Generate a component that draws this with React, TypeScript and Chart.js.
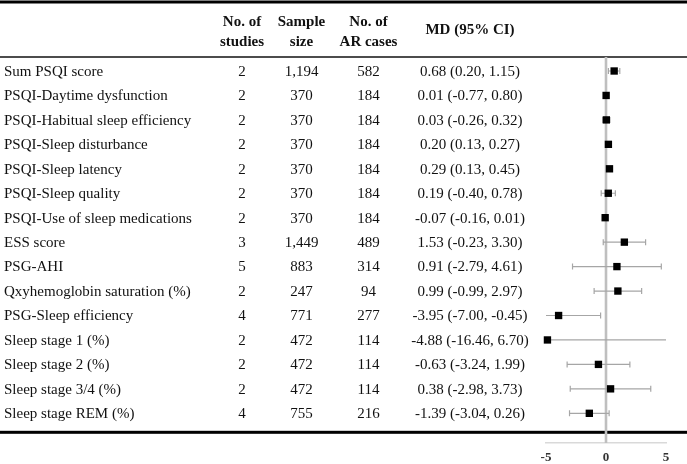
import React, { useEffect, useRef } from "react";
import { Chart, registerables } from "chart.js";

Chart.register(...registerables);

// ---------- data ----------
const outcomes = [
  "Sum PSQI score",
  "PSQI-Daytime dysfunction",
  "PSQI-Habitual sleep efficiency",
  "PSQI-Sleep disturbance",
  "PSQI-Sleep latency",
  "PSQI-Sleep quality",
  "PSQI-Use of sleep medications",
  "ESS score",
  "PSG-AHI",
  "Qxyhemoglobin saturation (%)",
  "PSG-Sleep efficiency",
  "Sleep stage 1 (%)",
  "Sleep stage 2 (%)",
  "Sleep stage 3/4 (%)",
  "Sleep stage REM (%)",
];
const studies = [2, 2, 2, 2, 2, 2, 2, 3, 5, 2, 4, 2, 2, 2, 4];
const sampleSizes = [1194, 370, 370, 370, 370, 370, 370, 1449, 883, 247, 771, 472, 472, 472, 755];
const arCases = [582, 184, 184, 184, 184, 184, 184, 489, 314, 94, 277, 114, 114, 114, 216];
const mdText = [
  "0.68 (0.20, 1.15)",
  "0.01 (-0.77, 0.80)",
  "0.03 (-0.26, 0.32)",
  "0.20 (0.13, 0.27)",
  "0.29 (0.13, 0.45)",
  "0.19 (-0.40, 0.78)",
  "-0.07 (-0.16, 0.01)",
  "1.53 (-0.23, 3.30)",
  "0.91 (-2.79, 4.61)",
  "0.99 (-0.99, 2.97)",
  "-3.95 (-7.00, -0.45)",
  "-4.88 (-16.46, 6.70)",
  "-0.63 (-3.24, 1.99)",
  "0.38 (-2.98, 3.73)",
  "-1.39 (-3.04, 0.26)",
];
// plotted estimates (as drawn in the figure)
const md = [0.68, 0.01, 0.03, 0.2, 0.29, 0.19, -0.07, 1.53, 0.91, 0.99, -3.95, -4.88, -0.63, 0.38, -1.39];
const ciLow = [0.2, -0.2, -0.26, 0.13, 0.13, -0.4, -0.16, -0.23, -2.79, -0.99, -7.0, -16.46, -3.24, -2.98, -3.04];
const ciHigh = [1.15, 0.22, 0.32, 0.27, 0.45, 0.78, 0.01, 3.3, 4.61, 2.97, -0.45, 6.7, 1.99, 3.73, 0.26];
const headers = [
  ["No. of", "studies"],
  ["Sample", "size"],
  ["No. of", "AR cases"],
  ["MD (95% CI)"],
];
const xMin = -5;
const xMax = 5;
const xStep = 5;

// ---------- layout ----------
const W = 687;
const H = 464;
const FONT = '"Liberation Serif", "Times New Roman", serif';
const colX = [242, 301.5, 368.5, 470];
const labelX = 4;

const tablePlugin = {
  id: "tablePlugin",
  beforeDraw(chart: any) {
    const ctx = chart.ctx;
    const yScale = chart.scales.y;
    ctx.save();
    ctx.fillStyle = "#ffffff";
    ctx.fillRect(0, 0, W, H);

    // rules
    ctx.fillStyle = "#000000";
    ctx.fillRect(0, 0.5, W, 3);
    ctx.fillRect(0, 56.3, W, 1.4);
    ctx.fillRect(0, 430.8, W, 3);

    // headers
    ctx.font = `bold 15px ${FONT}`;
    ctx.textAlign = "center";
    ctx.textBaseline = "alphabetic";
    ctx.fillStyle = "#111111";
    headers.forEach((h, c) => {
      if (h.length === 2) {
        ctx.fillText(h[0], colX[c], 26);
        ctx.fillText(h[1], colX[c], 45.5);
      } else {
        ctx.fillText(h[0], colX[c], 34);
      }
    });

    // rows
    ctx.font = `15px ${FONT}`;
    outcomes.forEach((name, i) => {
      const y = yScale.getPixelForValue(i) + 4.8;
      ctx.textAlign = "left";
      ctx.fillText(name, labelX, y);
      ctx.textAlign = "center";
      ctx.fillText(String(studies[i]), colX[0], y);
      ctx.fillText(sampleSizes[i].toLocaleString("en-US"), colX[1], y);
      ctx.fillText(String(arCases[i]), colX[2], y);
      ctx.fillText(mdText[i], colX[3], y);
    });
    ctx.restore();
  },
  beforeDatasetsDraw(chart: any) {
    const ctx = chart.ctx;
    const xs = chart.scales.x;
    const ys = chart.scales.y;
    const area = chart.chartArea;
    ctx.save();
    // zero line
    const x0 = xs.getPixelForValue(0);
    ctx.strokeStyle = "#bfbfbf";
    ctx.lineWidth = 2.6;
    ctx.beginPath();
    ctx.moveTo(x0, area.top);
    ctx.lineTo(x0, area.bottom);
    ctx.stroke();

    // confidence intervals
    ctx.strokeStyle = "#a6a6a6";
    ctx.lineWidth = 1.2;
    md.forEach((_, i) => {
      const y = ys.getPixelForValue(i);
      const lo = Math.max(ciLow[i], xMin);
      const hi = Math.min(ciHigh[i], xMax);
      const xl = xs.getPixelForValue(lo);
      const xh = xs.getPixelForValue(hi);
      ctx.beginPath();
      ctx.moveTo(xl, y);
      ctx.lineTo(xh, y);
      if (ciLow[i] >= xMin) {
        ctx.moveTo(xl, y - 3);
        ctx.lineTo(xl, y + 3);
      }
      if (ciHigh[i] <= xMax) {
        ctx.moveTo(xh, y - 3);
        ctx.lineTo(xh, y + 3);
      }
      ctx.stroke();
    });
    ctx.restore();
  },
};

export default function App() {
  const canvasRef = useRef<HTMLCanvasElement | null>(null);

  useEffect(() => {
    const canvas = canvasRef.current;
    if (!canvas) return;
    const chart = new Chart(canvas, {
      type: "scatter",
      data: {
        datasets: [
          {
            data: md.map((v, i) => ({ x: v, y: i })),
            pointStyle: "rect",
            pointRadius: 5.2,
            pointBorderWidth: 0,
            backgroundColor: "#000000",
            borderColor: "#000000",
            clip: false,
          } as any,
        ],
      },
      options: {
        responsive: false,
        animation: false,
        devicePixelRatio: 1,
        layout: { padding: { left: 546, right: 21, top: 57, bottom: 0 } },
        plugins: {
          legend: { display: false },
          tooltip: { enabled: false },
        },
        scales: {
          x: {
            type: "linear",
            position: "bottom",
            min: xMin,
            max: xMax,
            grid: { display: false, drawTicks: false },
            border: { display: true, color: "#d9d9d9", width: 1.5 },
            ticks: {
              stepSize: xStep,
              padding: 7,
              color: "#333333",
              font: { family: FONT, size: 13, weight: "bold" },
            },
            afterFit: (s: any) => {
              s.height = 21;
            },
          },
          y: {
            type: "linear",
            display: false,
            reverse: true,
            min: -0.5726,
            max: 15.2147,
          },
        },
      } as any,
      plugins: [tablePlugin],
    });
    return () => chart.destroy();
  }, []);

  return (
    <div style={{ position: "fixed", left: 0, top: 0, width: W, height: H, background: "#fff" }}>
      <canvas ref={canvasRef} width={W} height={H} style={{ display: "block", width: W, height: H }} />
    </div>
  );
}
